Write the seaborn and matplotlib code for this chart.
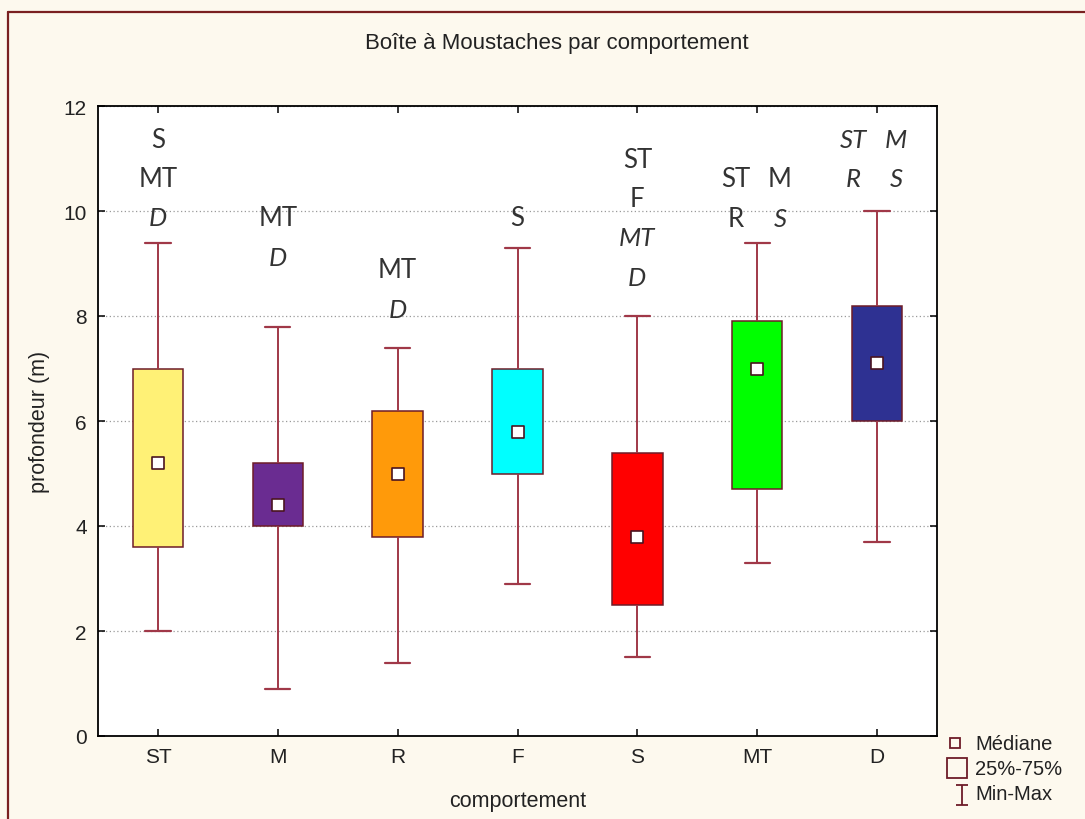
import numpy as np
import pandas as pd
import seaborn as sns
import matplotlib.pyplot as plt
from matplotlib.lines import Line2D
from matplotlib.path import Path

# ---------------- data ----------------
categories = ["ST", "M", "R", "F", "S", "MT", "D"]
mins = [2.0, 0.9, 1.4, 2.9, 1.5, 3.3, 3.7]
q1s = [3.6, 4.0, 3.8, 5.0, 2.5, 4.7, 6.0]
medians = [5.2, 4.4, 5.0, 5.8, 3.8, 7.0, 7.1]
q3s = [7.0, 5.2, 6.2, 7.0, 5.4, 7.9, 8.2]
maxs = [9.4, 7.8, 7.4, 9.3, 8.0, 9.4, 10.0]
box_colors = ["#FFF176", "#6A2C91", "#FF9A0A", "#00FFFF", "#FF0000", "#00FF00", "#2E3192"]
y_ticks = [0, 2, 4, 6, 8, 10, 12]

# significance letters above each box: rows of (text, italic)
annot_rows = {
    "ST": [[("S", False)], [("MT", False)], [("D", True)]],
    "M": [[("MT", False)], [("D", True)]],
    "R": [[("MT", False)], [("D", True)]],
    "F": [[("S", False)]],
    "S": [[("ST", False)], [("F", False)], [("MT", True)], [("D", True)]],
    "MT": [[("ST", False), ("M", False)], [("R", False), ("S", True)]],
    "D": [[("ST", True), ("M", True)], [("R", True), ("S", True)]],
}
annot_top = [11.37, 9.87, 8.88, 9.87, 10.99, 10.61, 11.37]

title = "Boîte à Moustaches par comportement"
xlabel = "comportement"
ylabel = "profondeur (m)"
legend_labels = ["Médiane", "25%-75%", "Min-Max"]

# long-form frame: five summary values per group reproduce min/q1/median/q3/max exactly
rows = []
for c, a, b, m, d, e in zip(categories, mins, q1s, medians, q3s, maxs):
    for v in (a, b, m, d, e):
        rows.append({"comportement": c, "profondeur": v})
df = pd.DataFrame(rows)
med_df = pd.DataFrame({"comportement": categories, "profondeur": medians})

# ---------------- style ----------------
sns.set_style("ticks")
plt.rcParams["font.family"] = ["Liberation Sans", "DejaVu Sans"]

bg = "#FDF9EE"
edge = "#6E1C28"
whisk = "#A03848"
txtc = "#222222"

fig = plt.figure(figsize=(10.85, 8.2), dpi=100, facecolor=bg)
ax = fig.add_axes([98 / 1085, 1 - 737 / 820, (937 - 98) / 1085, (737 - 107) / 820])
ax.set_facecolor("white")

sns.boxplot(
    data=df, x="comportement", y="profondeur", hue="comportement",
    order=categories, hue_order=categories,
    palette=dict(zip(categories, box_colors)), legend=False,
    whis=(0, 100), width=0.42, showfliers=False,
    linecolor=edge, linewidth=1.1,
    medianprops=dict(linewidth=0),
    whiskerprops=dict(color=whisk, linewidth=1.4),
    capprops=dict(color=whisk, linewidth=1.6),
    saturation=1, ax=ax,
)
sns.stripplot(
    data=med_df, x="comportement", y="profondeur", order=categories,
    marker="s", size=9, color="white", edgecolor="#4A1420", linewidth=1.2,
    jitter=False, zorder=6, ax=ax,
)

ax.set_xlim(-0.5, 6.5)
ax.set_ylim(0, 12)
ax.set_yticks(y_ticks)
ax.yaxis.grid(True, linestyle=(0, (1, 2)), color="#9A9A9A", linewidth=0.9)
ax.set_axisbelow(True)
ax.tick_params(direction="in", top=True, right=True, length=5, width=1.1,
               labelsize=15, colors="black", labelcolor=txtc)
ax.tick_params(axis="x", pad=8)
ax.tick_params(axis="y", pad=8)
for s in ax.spines.values():
    s.set_color("black")
    s.set_linewidth(1.3)
ax.set_xlabel(xlabel, fontsize=15.5, labelpad=17, color=txtc)
ax.set_ylabel(ylabel, fontsize=15.5, labelpad=10, color=txtc)

# annotations
line_step = 0.75
col_off = {"MT": (-0.18, 0.19), "D": (-0.20, 0.16)}
for i, c in enumerate(categories):
    for r, row in enumerate(annot_rows[c]):
        y = annot_top[i] - r * line_step
        offs = [0.0] if len(row) == 1 else col_off[c]
        for (txt, it), o in zip(row, offs):
            ax.text(i + o, y, txt, ha="center", va="center", fontsize=18.5,
                    style="italic" if it else "normal", color="#333333",
                    family=["Lato", "DejaVu Sans"])

# title
fig.text(557 / 1085, 1 - 44 / 820, title, ha="center", va="center", fontsize=16,
         color=txtc)

# legend (drawn in figure coordinates)
ibeam = Path([(-0.3, 0.5), (0.3, 0.5), (0, 0.5), (0, -0.5), (-0.3, -0.5), (0.3, -0.5)],
             [Path.MOVETO, Path.LINETO, Path.MOVETO, Path.LINETO, Path.MOVETO, Path.LINETO])
leg_markers = [("s", 7, (955, 744)), ("s", 14.5, (957, 769)), (ibeam, 14, (962, 796))]
leg_text_y = [745, 770, 795]
for (mk, ms, (mx, my)), lab, ty in zip(leg_markers, legend_labels, leg_text_y):
    fig.add_artist(Line2D([mx / 1085], [1 - my / 820], transform=fig.transFigure,
                          linestyle="none", marker=mk, markersize=ms,
                          markerfacecolor="none", markeredgecolor=edge,
                          markeredgewidth=1.3))
    fig.text(975 / 1085, 1 - ty / 820, lab, ha="left", va="center", fontsize=14.5,
             color=txtc)

# figure frame (left & top edge)
fig.add_artist(Line2D([8 / 1085, 8 / 1085], [0, 1 - 13 / 820], transform=fig.transFigure,
                      color="#7A2020", linewidth=1.6))
fig.add_artist(Line2D([8 / 1085, 1], [1 - 13 / 820, 1 - 13 / 820], transform=fig.transFigure,
                      color="#7A2020", linewidth=1.6))

fig.savefig("out.png", dpi=100, facecolor=bg)
